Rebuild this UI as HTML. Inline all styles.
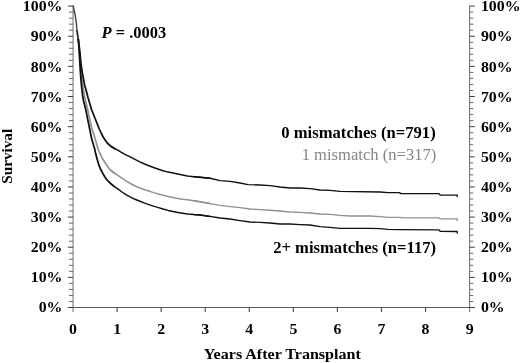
<!DOCTYPE html>
<html lang="en">
<head>
<meta charset="utf-8">
<title>Survival by mismatches</title>
<style>
html,body{margin:0;padding:0;background:#fff;}
body{width:520px;height:363px;overflow:hidden;}
svg{display:block;}
text{font-family:"Liberation Serif",serif;font-weight:bold;fill:#000;}
.ax text{font-size:15px;}
.lg{font-size:16.3px;}
</style>
</head>
<body>
<svg width="520" height="363" viewBox="0 0 520 363">
<rect width="520" height="363" fill="#fff"/>
<g stroke="#6e6e6e" stroke-width="1" fill="none">
<path d="M73.05,5.6V312M469.6,5.6V312"/>
<path d="M67.85,307.5H474.8" stroke="#5c5c5c"/>
</g>
<g stroke="#6a6a6a" stroke-width="1" fill="none">
<path d="M67.85,307.50H73.05M469.6,307.50H474.8" stroke="#3c3c3c"/>
<path d="M68.95,301.47H73.05M469.6,301.47H473.3"/>
<path d="M68.95,295.44H73.05M469.6,295.44H473.3"/>
<path d="M68.95,289.42H73.05M469.6,289.42H473.3"/>
<path d="M68.95,283.39H73.05M469.6,283.39H473.3"/>
<path d="M67.85,277.36H73.05M469.6,277.36H474.8" stroke="#3c3c3c"/>
<path d="M68.95,271.33H73.05M469.6,271.33H473.3"/>
<path d="M68.95,265.30H73.05M469.6,265.30H473.3"/>
<path d="M68.95,259.28H73.05M469.6,259.28H473.3"/>
<path d="M68.95,253.25H73.05M469.6,253.25H473.3"/>
<path d="M67.85,247.22H73.05M469.6,247.22H474.8" stroke="#3c3c3c"/>
<path d="M68.95,241.19H73.05M469.6,241.19H473.3"/>
<path d="M68.95,235.16H73.05M469.6,235.16H473.3"/>
<path d="M68.95,229.14H73.05M469.6,229.14H473.3"/>
<path d="M68.95,223.11H73.05M469.6,223.11H473.3"/>
<path d="M67.85,217.08H73.05M469.6,217.08H474.8" stroke="#3c3c3c"/>
<path d="M68.95,211.05H73.05M469.6,211.05H473.3"/>
<path d="M68.95,205.02H73.05M469.6,205.02H473.3"/>
<path d="M68.95,199.00H73.05M469.6,199.00H473.3"/>
<path d="M68.95,192.97H73.05M469.6,192.97H473.3"/>
<path d="M67.85,186.94H73.05M469.6,186.94H474.8" stroke="#3c3c3c"/>
<path d="M68.95,180.91H73.05M469.6,180.91H473.3"/>
<path d="M68.95,174.88H73.05M469.6,174.88H473.3"/>
<path d="M68.95,168.86H73.05M469.6,168.86H473.3"/>
<path d="M68.95,162.83H73.05M469.6,162.83H473.3"/>
<path d="M67.85,156.80H73.05M469.6,156.80H474.8" stroke="#3c3c3c"/>
<path d="M68.95,150.77H73.05M469.6,150.77H473.3"/>
<path d="M68.95,144.74H73.05M469.6,144.74H473.3"/>
<path d="M68.95,138.72H73.05M469.6,138.72H473.3"/>
<path d="M68.95,132.69H73.05M469.6,132.69H473.3"/>
<path d="M67.85,126.66H73.05M469.6,126.66H474.8" stroke="#3c3c3c"/>
<path d="M68.95,120.63H73.05M469.6,120.63H473.3"/>
<path d="M68.95,114.60H73.05M469.6,114.60H473.3"/>
<path d="M68.95,108.58H73.05M469.6,108.58H473.3"/>
<path d="M68.95,102.55H73.05M469.6,102.55H473.3"/>
<path d="M67.85,96.52H73.05M469.6,96.52H474.8" stroke="#3c3c3c"/>
<path d="M68.95,90.49H73.05M469.6,90.49H473.3"/>
<path d="M68.95,84.46H73.05M469.6,84.46H473.3"/>
<path d="M68.95,78.44H73.05M469.6,78.44H473.3"/>
<path d="M68.95,72.41H73.05M469.6,72.41H473.3"/>
<path d="M67.85,66.38H73.05M469.6,66.38H474.8" stroke="#3c3c3c"/>
<path d="M68.95,60.35H73.05M469.6,60.35H473.3"/>
<path d="M68.95,54.32H73.05M469.6,54.32H473.3"/>
<path d="M68.95,48.30H73.05M469.6,48.30H473.3"/>
<path d="M68.95,42.27H73.05M469.6,42.27H473.3"/>
<path d="M67.85,36.24H73.05M469.6,36.24H474.8" stroke="#3c3c3c"/>
<path d="M68.95,30.21H73.05M469.6,30.21H473.3"/>
<path d="M68.95,24.18H73.05M469.6,24.18H473.3"/>
<path d="M68.95,18.16H73.05M469.6,18.16H473.3"/>
<path d="M68.95,12.13H73.05M469.6,12.13H473.3"/>
<path d="M67.85,6.10H73.05M469.6,6.10H474.8" stroke="#3c3c3c"/>
</g>
<g stroke="#505050" stroke-width="1.15" fill="none">
<path d="M117.11,307.5V312"/>
<path d="M161.17,307.5V312"/>
<path d="M205.23,307.5V312"/>
<path d="M249.29,307.5V312"/>
<path d="M293.36,307.5V312"/>
<path d="M337.42,307.5V312"/>
<path d="M381.48,307.5V312"/>
<path d="M425.54,307.5V312"/>
</g>
<g fill="none" stroke-linejoin="round" stroke-linecap="round">
<path d="M73.4,6.1 L74.2,11 L75.3,15.5 L76.4,23.5 L77,31" stroke="#444" stroke-width="1.45"/>
<path d="M77,31 L78.35,40" stroke="#222" stroke-width="1.7"/>
<path d="M78.3,39.5 L79.1,47 L79.7,55 L80.2,62 L81.2,73.6 L82.6,85 L84.6,96.5 L85.5,100.5 L87.7,109.7 L89.7,119.3 L92,129 L95.1,138.6 L98.2,149.5 L102,157.7 L105.8,163.9 L109.7,169.3 L113.5,172.5" stroke="#919191" stroke-width="1.7"/>
<path d="M109.7,169.3 L113.5,172.5 L118.2,175.6 L122,178.1 L125.9,180.8 L129.6,183 L135,186 L139.3,187.8 L144,189.5 L148.9,191 L153.5,192.6 L158.5,194 L163,195.2 L168.2,196.4 L173,197.5 L177.8,198.5 L182.5,199.2 L187.4,199.8 L194,200.8 L200,201.7 L210,203.6" stroke="#919191" stroke-width="1.5"/>
<path d="M194,200.8 L200,201.7 L210,203.6 L220,205.4 L230,206.6 L240,207.6 L250,209 L260,209.6 L270,210.2 L280,211 L290,212 L300,212.4 L310,213 L320,214 L330,214.4 L340,215.4 L350,216 L370,216 L380,216.6 L388,217.4 L399,217.4 L405,217.9 L439,217.9 L440.2,218.8 L457.2,218.9 L457.2,220.4" stroke="#919191" stroke-width="1.4"/>
<path d="M78.3,39.5 L78.9,47 L79.4,55 L79.8,62 L80.5,73.6 L81.4,85 L82.7,96.5 L83.6,101 L85.8,109.7 L87.7,119.3 L89.7,129 L91.6,138.6 L94.5,148.3 L95.9,154.6 L97.4,160 L98.9,165.2 L100.7,169.5 L102.7,173.2 L104.6,176.5 L106.6,179.4 L108.5,181.5 L110.5,183.3 L114,186.3" stroke="#111" stroke-width="1.75"/>
<path d="M110.5,183.3 L114,186.3 L118.2,189.2 L122,192 L125.9,194.6 L129.6,196.6 L135,199.3 L139.3,201 L144,202.9 L148.9,204.6 L153.5,206.1 L158.5,207.6 L163,209 L168.2,210.4 L173,211.5 L177.8,212.4 L182.5,213.2 L187.4,214 L194,214.6 L200,215 L210,216.4" stroke="#111" stroke-width="1.5"/>
<path d="M194,214.6 L200,215 L210,216.4 L220,218 L230,219 L240,220.6 L250,222 L260,222.4 L270,223 L280,224 L290,224 L300,224.6 L310,225 L320,226.6 L330,227.4 L340,228.4 L370,228.4 L380,228.6 L388,229.4 L399,229.6 L439,229.9 L440.2,231.2 L457.2,231.5 L457.2,233.1" stroke="#111" stroke-width="1.4"/>
<path d="M78.3,39.5 L79.3,47 L80.2,55 L80.8,62 L81.6,68 L82.5,74 L83.5,79 L84.6,85 L86.2,90.5 L87.7,96.5 L88.9,100.5 L91.6,109.7 L95.4,119.3 L99.3,129 L101.6,134 L104.1,138.6 L107.3,143 L110.9,146.3 L114.5,148.5" stroke="#111" stroke-width="1.75"/>
<path d="M110.9,146.3 L114.5,148.5 L118.2,150.4 L121,152.2 L125.9,154.8 L129.6,156.7 L135,159.4 L139.3,161.6 L144,163.7 L148.9,165.7 L153.5,167.5 L158.5,169.2 L163,170.7 L168.2,172.1 L173,173.1 L177.8,174.1 L182.5,175 L187.4,175.9 L194,176.7 L200,177.3 L210,178.2" stroke="#111" stroke-width="1.5"/>
<path d="M194,176.7 L200,177.3 L210,178.2 L220,180.6 L230,181.4 L240,183 L248,184.6 L260,185 L270,185.6 L280,187 L290,188 L300,188 L310,188.6 L320,190 L330,190.4 L340,191.4 L380,192 L388,192.6 L399,192.6 L401,193.5 L439,193.6 L440.2,195 L457.2,195.1 L457.2,196.6" stroke="#111" stroke-width="1.4"/>
</g>
<g class="ax">
<text transform="translate(62.4,312.4) scale(1.057,1)" text-anchor="end">0%</text>
<text transform="translate(480.9,312.4) scale(1.057,1)">0%</text>
<text transform="translate(62.4,282.2) scale(1.057,1)" text-anchor="end">10%</text>
<text transform="translate(480.9,282.2) scale(1.057,1)">10%</text>
<text transform="translate(62.4,252.2) scale(1.057,1)" text-anchor="end">20%</text>
<text transform="translate(480.9,252.2) scale(1.057,1)">20%</text>
<text transform="translate(62.4,222.1) scale(1.057,1)" text-anchor="end">30%</text>
<text transform="translate(480.9,222.1) scale(1.057,1)">30%</text>
<text transform="translate(62.4,192.0) scale(1.057,1)" text-anchor="end">40%</text>
<text transform="translate(480.9,192.0) scale(1.057,1)">40%</text>
<text transform="translate(62.4,161.9) scale(1.057,1)" text-anchor="end">50%</text>
<text transform="translate(480.9,161.9) scale(1.057,1)">50%</text>
<text transform="translate(62.4,131.8) scale(1.057,1)" text-anchor="end">60%</text>
<text transform="translate(480.9,131.8) scale(1.057,1)">60%</text>
<text transform="translate(62.4,101.7) scale(1.057,1)" text-anchor="end">70%</text>
<text transform="translate(480.9,101.7) scale(1.057,1)">70%</text>
<text transform="translate(62.4,71.6) scale(1.057,1)" text-anchor="end">80%</text>
<text transform="translate(480.9,71.6) scale(1.057,1)">80%</text>
<text transform="translate(62.4,41.4) scale(1.057,1)" text-anchor="end">90%</text>
<text transform="translate(480.9,41.4) scale(1.057,1)">90%</text>
<text transform="translate(62.4,11.4) scale(1.057,1)" text-anchor="end">100%</text>
<text transform="translate(480.9,11.4) scale(1.057,1)">100%</text>
<text transform="translate(73.0,334.3) scale(1.057,1)" text-anchor="middle">0</text>
<text transform="translate(117.1,334.3) scale(1.057,1)" text-anchor="middle">1</text>
<text transform="translate(161.2,334.3) scale(1.057,1)" text-anchor="middle">2</text>
<text transform="translate(205.2,334.3) scale(1.057,1)" text-anchor="middle">3</text>
<text transform="translate(249.3,334.3) scale(1.057,1)" text-anchor="middle">4</text>
<text transform="translate(293.4,334.3) scale(1.057,1)" text-anchor="middle">5</text>
<text transform="translate(337.4,334.3) scale(1.057,1)" text-anchor="middle">6</text>
<text transform="translate(381.5,334.3) scale(1.057,1)" text-anchor="middle">7</text>
<text transform="translate(425.5,334.3) scale(1.057,1)" text-anchor="middle">8</text>
<text transform="translate(469.6,334.3) scale(1.057,1)" text-anchor="middle">9</text>
<text transform="translate(282.3,359) scale(1.071,1)" text-anchor="middle">Years After Transplant</text>
<text transform="translate(11.7,156.3) rotate(-90) scale(1.03,1)" text-anchor="middle" style="font-size:14.8px">Survival</text>
</g>
<text class="lg" transform="translate(101.5,37.6) scale(1.012,1)"><tspan font-style="italic">P</tspan> = .0003</text>
<text class="lg" transform="translate(435.7,138.4) scale(1.02,1)" text-anchor="end">0 mismatches (n=791)</text>
<text class="lg" transform="translate(436.3,160.4) scale(1.018,1)" text-anchor="end" style="font-weight:normal;fill:#858585">1 mismatch (n=317)</text>
<text class="lg" transform="translate(436.1,252.5) scale(1.02,1)" text-anchor="end">2+ mismatches (n=117)</text>
</svg>
</body>
</html>
